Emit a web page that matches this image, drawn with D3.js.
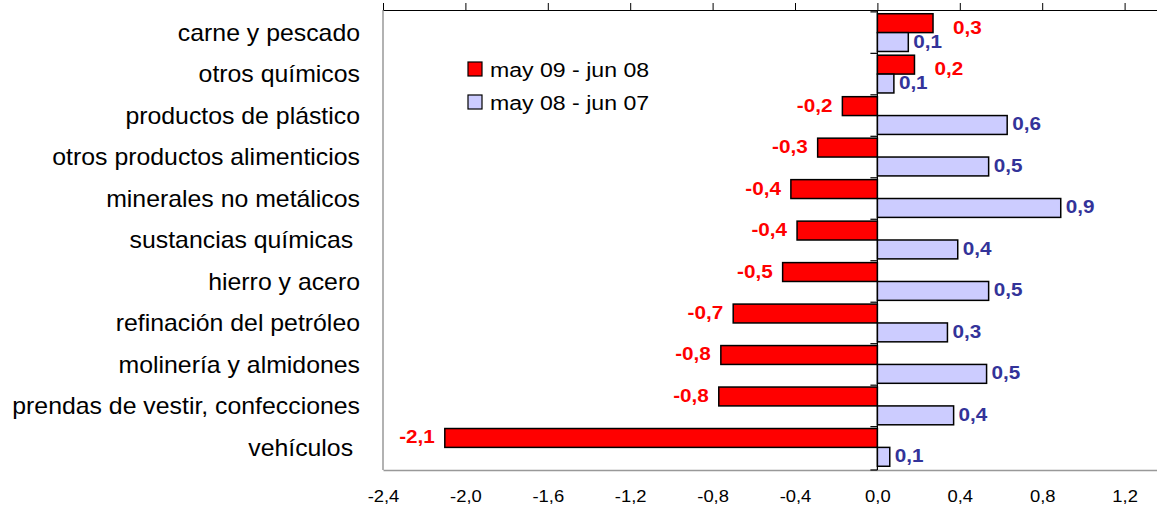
<!DOCTYPE html>
<html>
<head>
<meta charset="utf-8">
<script src="https://d3js.org/d3.v7.min.js"></script>
<style>
	body { margin: 0; background: #fff; }
	svg { display: block; background: #fff; }
	text { font-family: "Liberation Sans", Arial, sans-serif; }
	.cat { font-size: 23px; fill: #000; white-space: pre; }
	.tick text { font-size: 16px; fill: #000; }
	.val { font-size: 18px; font-weight: bold; }
	.leg { font-size: 21px; fill: #000; }
</style>
</head>
<body>
<svg class="chart" width="1157" height="510"></svg>
<script>
// categories, top to bottom (trailing spaces are in the original labels)
var categories = [
	"carne y pescado",
	"otros químicos",
	"productos de plástico",
	"otros productos alimenticios",
	"minerales no metálicos",
	"sustancias químicas ",
	"hierro y acero",
	"refinación del petróleo",
	"molinería y almidones",
	"prendas de vestir, confecciones",
	"vehículos "
];
var seriesNames = ["may 09 - jun 08", "may 08 - jun 07"];
var may09 = [0.27, 0.18, -0.17, -0.29, -0.42, -0.39, -0.46, -0.70, -0.76, -0.77, -2.10];
var may08 = [0.15, 0.08, 0.63, 0.54, 0.89, 0.39, 0.54, 0.34, 0.53, 0.37, 0.06];
var xTicks = [-2.4, -2.0, -1.6, -1.2, -0.8, -0.4, 0.0, 0.4, 0.8, 1.2];

var fills = ["#ff0000", "#ccccff"];
var labelColors = ["#ff0000", "#333399"];
var stretch = 1.15; // the original text is a bit wider than the fonts here

var svg = d3.select(".chart");

var loc = d3.formatLocale({decimal: ",", thousands: ".", grouping: [3], currency: ["", ""], minus: "-"});
var fmt = loc.format(".1f");

// axis runs on past the right edge of the picture (cropped like the original)
var x = d3.scaleLinear().domain([-2.4, 1.6]).range([383, 383 + 4 * 206]);
var y = d3.scaleBand().domain(categories).range([10, 470]).paddingInner(0.09).paddingOuter(0.09);
var ySub = d3.scaleBand().domain(seriesNames).range([0, y.bandwidth()]);

// plot area border (left, grey)
svg.append("line")
	.attr("x1", x(-2.4)).attr("x2", x(-2.4))
	.attr("y1", 10).attr("y2", 470)
	.attr("stroke", "#999").attr("stroke-width", 1.5);

// bottom axis: labels only, grey line
var bottomAxis = svg.append("g")
	.attr("transform", "translate(0,470)")
	.call(d3.axisBottom(x).tickValues(xTicks).tickSize(0).tickSizeOuter(0).tickPadding(21).tickFormat(fmt));
bottomAxis.select(".domain").attr("stroke", "#999").attr("stroke-width", 1.5);
bottomAxis.selectAll(".tick text")
	.attr("transform", "scale(" + stretch + ",1)");

// top axis line with upward ticks
var topAxis = svg.append("g")
	.attr("transform", "translate(0,10)")
	.call(d3.axisTop(x).tickValues(xTicks).tickSize(7).tickSizeOuter(0).tickFormat(""));
topAxis.select(".domain").attr("stroke-width", 1.2);

// rows
var rows = svg.selectAll(".row")
	.data(categories)
	.enter().append("g")
	.attr("class", "row")
	.attr("transform", function(d) { return "translate(0," + y(d) + ")"; });

rows.each(function(c, i) {
	var g = d3.select(this);
	var vals = [may09[i], may08[i]];
	vals.forEach(function(v, s) {
		var y0 = ySub(seriesNames[s]);
		g.append("rect")
			.attr("x", Math.min(x(0), x(v)))
			.attr("y", y0)
			.attr("width", Math.abs(x(v) - x(0)))
			.attr("height", ySub.bandwidth())
			.attr("fill", fills[s])
			.attr("stroke", "#000")
			.attr("stroke-width", 1.5);

		var lx, anchor, ly;
		if (s === 0) {
			if (v < 0) { lx = x(v) - 10; anchor = "end"; ly = y0 + ySub.bandwidth() / 2 - 1; }
			else { lx = x(v) + 20; anchor = "start"; ly = y0 + ySub.bandwidth() / 2 + 4; }
		} else {
			lx = x(v) + 5; anchor = "start"; ly = y0 + ySub.bandwidth() / 2 - 1;
		}
		g.append("text")
			.attr("class", "val")
			.attr("transform", "translate(" + lx + "," + ly + ") scale(" + stretch + ",1)")
			.attr("text-anchor", anchor)
			.attr("dy", "0.36em")
			.attr("fill", labelColors[s])
			.text(fmt(v));
	});
});

// category labels
svg.selectAll(".cat")
	.data(categories)
	.enter().append("text")
	.attr("class", "cat")
	.attr("xml:space", "preserve")
	.attr("text-anchor", "end")
	.attr("dy", "0.36em")
	.attr("transform", function(d) {
		return "translate(360," + (y(d) + y.bandwidth() / 2) + ") scale(1.08,1)";
	})
	.text(function(d) { return d; });

// vertical category axis at zero with small ticks between categories
svg.append("line")
	.attr("x1", x(0)).attr("x2", x(0))
	.attr("y1", 10).attr("y2", 470)
	.attr("stroke", "#000").attr("stroke-width", 1.2);
var gap = y.step() * y.paddingInner() / 2;
var bounds = categories.map(function(d) { return y(d) - gap; }).concat([470]);
svg.selectAll(".ctick")
	.data(bounds)
	.enter().append("line")
	.attr("class", "ctick")
	.attr("x1", x(0) - 7).attr("x2", x(0))
	.attr("y1", function(d) { return d; }).attr("y2", function(d) { return d; })
	.attr("stroke", "#000").attr("stroke-width", 1.2);

// legend
var legend = svg.selectAll(".legend")
	.data(seriesNames)
	.enter().append("g")
	.attr("class", "legend")
	.attr("transform", function(d, i) { return "translate(468," + (62 + i * 33) + ")"; });
legend.append("rect")
	.attr("width", 14).attr("height", 14)
	.attr("fill", function(d, i) { return fills[i]; })
	.attr("stroke", "#000").attr("stroke-width", 1.2);
legend.append("text")
	.attr("class", "leg")
	.attr("transform", "translate(22,7) scale(1.1,1)")
	.attr("dy", "0.36em")
	.text(function(d) { return d; });
</script>
</body>
</html>
